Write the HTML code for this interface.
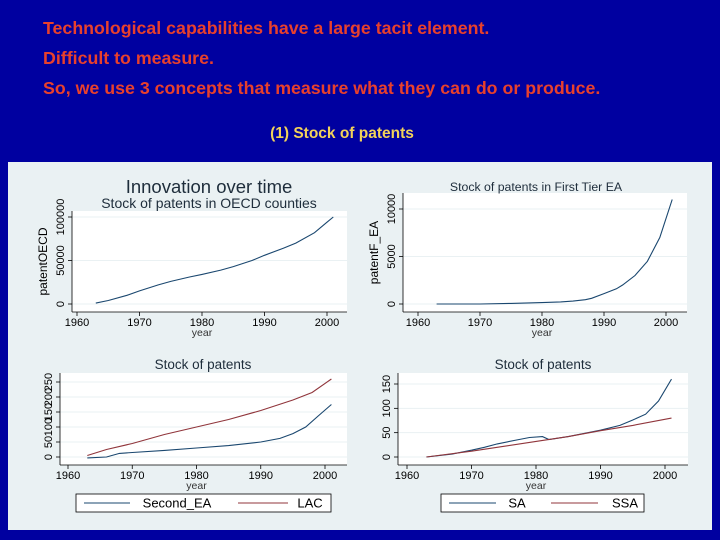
<!DOCTYPE html>
<html><head><meta charset="utf-8"><style>
html,body{margin:0;padding:0;background:#0000a0;}
svg{display:block;font-family:"Liberation Sans",Arial,sans-serif;}
</style></head><body>
<svg id="s" width="720" height="540" viewBox="0 0 720 540">
<rect x="0" y="0" width="720" height="540" fill="#0000a0"/>
<g font-weight="bold" font-size="17.8" fill="#e8402c">
<text x="43" y="34">Technological capabilities have a large tacit element.</text>
<text x="43" y="64">Difficult to measure.</text>
<text x="43" y="94">So, we use 3 concepts that measure what they can do or produce.</text>
</g>
<text x="342" y="138" text-anchor="middle" font-weight="bold" font-size="15.5" fill="#f2d25a">(1) Stock of patents</text>
<rect x="8" y="162" width="704" height="368" fill="#eaf1f3"/>
<g id="charts"></g>
</svg>
<script>
// Chart 1: OECD
const yearsOECD = [1963,1965,1968,1970,1973,1975,1978,1980,1983,1985,1988,1990,1993,1995,1998,2000,2001];
const patentOECD = [1000,4000,10000,15000,22000,26000,31000,34000,39000,43000,50000,56000,64000,70000,82000,94000,100000];
// Chart 2: First tier EA
const yearsFEA = [1963,1970,1975,1980,1983,1985,1987,1988,1990,1992,1993,1995,1997,1999,2001];
const patentFEA = [0,0,60,150,220,300,450,600,1100,1600,2000,3000,4500,7000,11000];
// Chart 3: Second_EA and LAC
const yearsC = [1963,1966,1968,1970,1975,1980,1985,1990,1993,1995,1997,1999,2001];
const secondEA = [-3,0,12,15,22,30,38,50,62,78,100,138,175];
const lacYears = [1963,1966,1970,1975,1980,1985,1990,1995,1998,2001];
const lac = [5,25,45,75,100,125,155,190,215,260];
// Chart 4: SA and SSA
const saYears = [1963,1967,1970,1972,1974,1977,1979,1981,1982,1985,1990,1993,1995,1997,1999,2001];
const sa = [0,6,14,20,27,35,40,42,36,42,55,65,76,88,115,160];
const ssaYears = [1963,1970,1975,1980,1985,1990,1995,2001];
const ssa = [0,12,22,32,42,54,65,80];
const xTicks = [1960,1970,1980,1990,2000];

const NS='http://www.w3.org/2000/svg';
const root=document.getElementById('charts');
function mk(tag,attrs,parent,text){const e=document.createElementNS(NS,tag);for(const k in attrs)e.setAttribute(k,attrs[k]);if(text!==undefined)e.textContent=text;(parent||root).appendChild(e);return e;}

function chart(cfg){
  const g=mk('g',{});
  
  
  const sx=v=>cfg.x0+(v-1960)/40*(cfg.x1-cfg.x0);
  const sy=v=>cfg.yb-(v-cfg.ymin)/(cfg.ymax-cfg.ymin)*(cfg.yb-cfg.yt);
  const bg=mk('rect',{x:cfg.pl,y:cfg.pt,width:cfg.pr-cfg.pl,height:cfg.pb-cfg.pt,fill:'#ffffff'},g);
  
  
  cfg.yTicks.forEach((t,i)=>{
    const y=sy(t);
    const gl=mk('line',{x1:cfg.pl,x2:cfg.pr,y1:y,y2:y,stroke:'#eaf1f3','stroke-width':1},g);
    
    
    mk('line',{x1:cfg.pl-4,x2:cfg.pl,y1:y,y2:y,stroke:'#000','stroke-width':0.8},g);
    const lab=cfg.yLabels[i];
    const tx=mk('text',{x:cfg.pl-8,y:y,'font-size':11,'text-anchor':'middle',transform:`rotate(-90 ${cfg.pl-8} ${y})`,fill:'#000'},g,lab);
    
    
  });
  mk('line',{x1:cfg.pl,x2:cfg.pl,y1:cfg.pt,y2:cfg.pb,stroke:'#000','stroke-width':0.8},g);
  mk('line',{x1:cfg.pl,x2:cfg.pr,y1:cfg.pb,y2:cfg.pb,stroke:'#000','stroke-width':0.8},g);
  xTicks.forEach(t=>{
    const x=sx(t);
    mk('line',{x1:x,x2:x,y1:cfg.pb,y2:cfg.pb+4,stroke:'#000','stroke-width':0.8},g);
    const tx=mk('text',{x:x,y:cfg.pb+14,'font-size':11,'text-anchor':'middle',fill:'#000'},g,String(t));
    
    
  });
  const xt=mk('text',{x:(sx(1960)+sx(2000))/2,y:cfg.pb+24,'font-size':10.5,'text-anchor':'middle',fill:'#333'},g,'year');
  
  
  if(cfg.ylab){
    const yl=cfg.pl-25, ym=(cfg.pt+cfg.pb)/2;
    const t=mk('text',{x:yl,y:ym,'font-size':12,'text-anchor':'middle',transform:`rotate(-90 ${yl} ${ym})`,fill:'#000'},g,cfg.ylab);
    
    
  }
  cfg.titles.forEach(tt=>{
    const t=mk('text',{x:tt.x,y:tt.y,'font-size':tt.s,'text-anchor':'middle',fill:'#1e2d3b'},g,tt.t);
    
    
  });
  cfg.series.forEach(s=>{
    const d=s.xs.map((v,i)=>(i?'L':'M')+sx(v).toFixed(1)+','+sy(s.ys[i]).toFixed(1)).join(' ');
    const p=mk('path',{d:d,fill:'none',stroke:s.c,'stroke-width':1.1},g);
    
    
  });
  if(cfg.legend){
    const L=cfg.legend;
    const r=mk('rect',{x:L.x,y:L.y,width:L.w,height:18,fill:'#fff',stroke:'#000','stroke-width':0.8},g);
    
    
    L.items.forEach(it=>{
      mk('line',{x1:it.lx,x2:it.lx+it.ll,y1:L.y+9,y2:L.y+9,stroke:it.c,'stroke-width':1.1},g);
      const t=mk('text',{x:it.tx,y:L.y+13.5,'font-size':13,'text-anchor':'middle',fill:'#000'},g,it.t);
      
      
    });
  }
}
const C1='#1a476f', C2='#90353b';
chart({name:'chart-oecd',x0:77,x1:327,pl:72,pr:347,pt:211,pb:312,yt:217,yb:304,ymin:0,ymax:100000,
  yTicks:[0,50000,100000],yLabels:['0','50000','100000'],ylab:'patentOECD',
  titles:[{t:'Innovation over time',x:209,y:193,s:18.5,n:'main-title'},{t:'Stock of patents in OECD counties',x:209,y:208,s:14,n:'chart-title'}],
  series:[{xs:yearsOECD,ys:patentOECD,c:C1,n:'line-oecd'}]});
chart({name:'chart-first-tier-ea',x0:418,x1:666,pl:403,pr:687,pt:193,pb:312,yt:209,yb:304,ymin:0,ymax:10000,
  yTicks:[0,5000,10000],yLabels:['0','5000','10000'],ylab:'patentF_EA',
  titles:[{t:'Stock of patents in First Tier EA',x:536,y:191,s:12.3,n:'chart-title'}],
  series:[{xs:yearsFEA,ys:patentFEA,c:C1,n:'line-first-tier-ea'}]});
chart({name:'chart-second-ea-lac',x0:68,x1:325,pl:60,pr:347,pt:373,pb:465,yt:382,yb:457,ymin:0,ymax:250,
  yTicks:[0,50,100,150,200,250],yLabels:['0','50','100','150','200','250'],
  titles:[{t:'Stock of patents',x:203,y:369,s:13.5,n:'chart-title'}],
  series:[{xs:yearsC,ys:secondEA,c:C1,n:'line-second-ea'},{xs:lacYears,ys:lac,c:C2,n:'line-lac'}],
  legend:{x:76,y:494,w:255,items:[{lx:84,ll:46,c:C1,t:'Second_EA',tx:177},{lx:238,ll:50,c:C2,t:'LAC',tx:310}]}});
chart({name:'chart-sa-ssa',x0:407,x1:665,pl:398,pr:688,pt:373,pb:465,yt:384,yb:457,ymin:0,ymax:150,
  yTicks:[0,50,100,150],yLabels:['0','50','100','150'],
  titles:[{t:'Stock of patents',x:543,y:369,s:13.5,n:'chart-title'}],
  series:[{xs:saYears,ys:sa,c:C1,n:'line-sa'},{xs:ssaYears,ys:ssa,c:C2,n:'line-ssa'}],
  legend:{x:441,y:494,w:203,items:[{lx:449,ll:47,c:C1,t:'SA',tx:517},{lx:551,ll:47,c:C2,t:'SSA',tx:625}]}});
</script>
</body></html>
